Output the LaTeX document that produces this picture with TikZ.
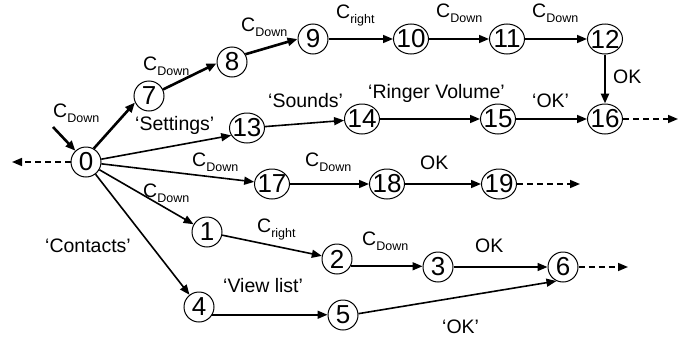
\documentclass[tikz,border=0pt]{standalone}
\usepackage{fontspec}
\setmainfont{Liberation Sans}
\usetikzlibrary{arrows.meta,shapes.geometric}
\newcommand{\Csub}[1]{C\raisebox{-5pt}{\fontsize{12.5}{12.5}\selectfont #1}}
\newcommand{\zw}[1]{\makebox[0pt]{#1}}
\begin{document}
\begin{tikzpicture}[x=1pt,y=-1pt,
  st/.style={circle,draw,line width=1pt,minimum size=30pt,inner sep=0pt,font=\fontsize{26}{26}\selectfont},
  sttwo/.style={ellipse,draw,line width=1pt,minimum width=35pt,minimum height=30pt,inner sep=0pt,font=\fontsize{26}{26}\selectfont},
  lab/.style={anchor=base west,inner sep=0pt,font=\fontsize{19.5}{20}\selectfont},
  edg/.style={line width=1.6pt,-{Triangle[length=10pt,width=8pt]}},
  boldedg/.style={line width=2.6pt,-{Triangle[length=10pt,width=8pt]}},
  dashedg/.style={line width=1.6pt,dash pattern=on 6pt off 4pt,-{Triangle[length=10pt,width=8pt]}}
]
\useasboundingbox (0,0) rectangle (696,343);
% nodes
\node[st] (n0) at (86,162) {0};
\node[st] (n7) at (149,96) {7};
\node[st] (n8) at (232,62) {8};
\node[st] (n9) at (313,39) {9};
\node[sttwo] (n10) at (411,39) {\zw{10}};
\node[sttwo] (n11) at (507,39) {\zw{11}};
\node[sttwo] (n12) at (605,39) {\zw{12}};
\node[sttwo] (n13) at (247,128) {\zw{13}};
\node[sttwo] (n14) at (362,119) {\zw{14}};
\node[sttwo] (n15) at (498,119) {\zw{15}};
\node[sttwo] (n16) at (605,119) {\zw{16}};
\node[sttwo] (n17) at (272,184) {\zw{17}};
\node[sttwo] (n18) at (387,184) {\zw{18}};
\node[sttwo] (n19) at (499,184) {\zw{19}};
\node[st] (n1) at (207,232) {1};
\node[st] (n2) at (337,259) {2};
\node[st] (n3) at (438,267) {3};
\node[st] (n6) at (563,267) {6};
\node[st] (n4) at (199,307) {4};
\node[st] (n5) at (343,315) {5};
\coordinate (in) at (53,127);
\coordinate (lft) at (12,162);
\coordinate (e16) at (678,119);
\coordinate (e19) at (580,184);
\coordinate (e6) at (628,267);
% edges
\draw[boldedg] (in) -- (n0);
\draw[dashedg] (n0.west) -- (lft);
\draw[boldedg] (n0.60) -- (n7.205);
\draw[boldedg] (n7.25) -- (n8.185);
\draw[boldedg] (n8.30) -- (n9.west);
\draw[edg] (n9) -- (n10);
\draw[edg] (n10) -- (n11);
\draw[edg] (n11) -- (n12);
\draw[boldedg] (n12) -- (n16);
\draw[edg] (n0) -- (n13.205);
\draw[edg] (n13) -- (n14);
\draw[edg] (n14) -- (n15);
\draw[edg] (n15) -- (n16);
\draw[dashedg] (n16.east) -- (e16);
\draw[edg] (n0) -- (n17);
\draw[edg] (n17) -- (n18);
\draw[edg] (n18) -- (n19);
\draw[dashedg] (n19.east) -- (e19);
\draw[edg] (n0) -- (n1);
\draw[edg] (n1) -- (n2);
\draw[edg] (n2.-28) -- (n2.-28 -| n3.west);
\draw[edg] (n3) -- (n6);
\draw[dashedg] (n6.east) -- (e6);
\draw[edg] (n0) -- (n4);
\draw[edg] (n4.-30) -- (n4.-30 -| n5.west);
\draw[edg] (n5.5) -- (n6.-115);
% labels
\node[lab] (l1) at (53,117) {\Csub{Down}};
\node[lab] (l2) at (143,70) {\Csub{Down}};
\node[lab] (l3) at (241,31) {\Csub{Down}};
\node[lab] (l4) at (336,18) {\Csub{right}};
\node[lab] (l5) at (436,17) {\Csub{Down}};
\node[lab] (l6) at (532,17) {\Csub{Down}};
\node[lab] (l7) at (135,130) {`Settings'};
\node[lab] (l8) at (268,107) {`Sounds'};
\node[lab] (l9) at (368,98) {`Ringer Volume'};
\node[lab] (l10) at (532,107) {`OK'};
\node[lab] (l11) at (613,83) {OK};
\node[lab] (l12) at (192,166) {\Csub{Down}};
\node[lab] (l13) at (305,166) {\Csub{Down}};
\node[lab] (l14) at (420,169) {OK};
\node[lab] (l15) at (143,197) {\Csub{Down}};
\node[lab] (l16) at (257,232) {\Csub{right}};
\node[lab] (l17) at (45,252) {`Contacts'};
\node[lab] (l18) at (223,292) {`View list'};
\node[lab] (l19) at (362,245) {\Csub{Down}};
\node[lab] (l20) at (475,252) {OK};
\node[lab] (l21) at (442,333) {`OK'};
\end{tikzpicture}
\end{document}
